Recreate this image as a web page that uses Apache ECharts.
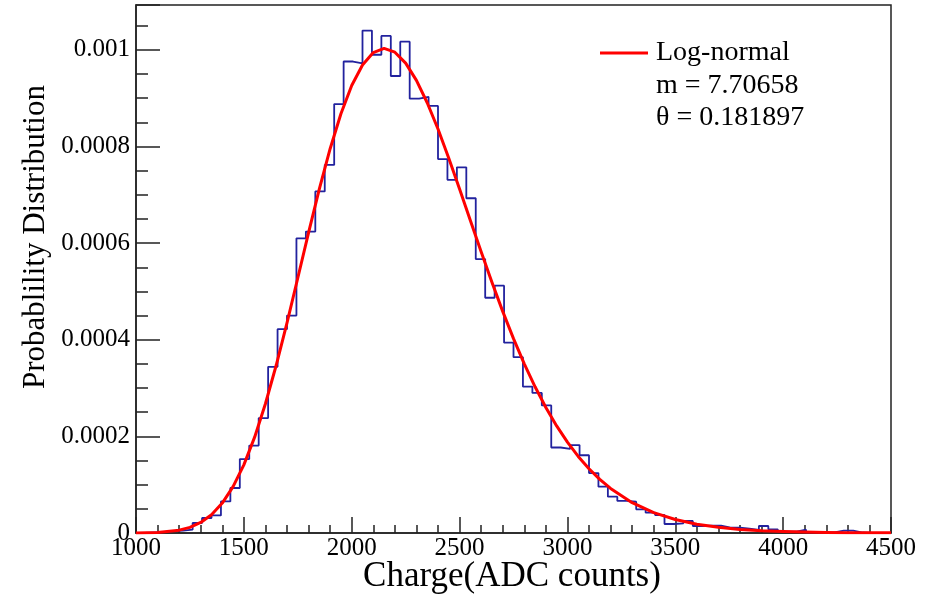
<!DOCTYPE html>
<html>
<head>
<meta charset="utf-8">
<script src="https://cdn.jsdelivr.net/npm/echarts@6/dist/echarts.min.js"></script>
<style>
html,body{margin:0;padding:0;background:#fff;}
#chart{width:935px;height:596px;}
</style>
</head>
<body>
<div id="chart"></div>
<script>
// ---- data ----
const binStart = 1000;
const binWidth = 43.75;
const histValues = [
  0, 0.000001, 0.000002, 0.000004, 0.000005, 0.0000068, 0.0000207, 0.000031, 0.0000364, 0.0000654,
  0.0000932, 0.000153, 0.000181, 0.000238, 0.000344, 0.000422, 0.00045, 0.00061, 0.000624, 0.000707,
  0.000762, 0.000888, 0.000976, 0.000972, 0.00104, 0.00099, 0.001029, 0.000946, 0.001017, 0.000899,
  0.000903, 0.000884, 0.000774, 0.000731, 0.000757, 0.000693, 0.000567, 0.000487, 0.000512, 0.000394,
  0.000364, 0.000303, 0.00029, 0.000264, 0.000177, 0.000174, 0.000182, 0.000161, 0.000124, 0.0000959,
  0.0000752, 0.0000663, 0.0000648, 0.000049, 0.000042, 0.0000373, 0.0000186, 0.00002, 0.0000248, 0.0000145,
  0.0000151, 0.0000151, 0.000011, 0.000011, 0.0000089, 0.0000062, 0.0000145, 0.0000076, 0.0000028, 0.0000028,
  0.0000069, 0.0000014, 0.0000014, 0.0000014, 0.0000048, 0.0000048, 0.000001, 0, 0, 0
];
const curveX = [1000,1100,1200,1250,1300,1350,1400,1450,1500,1550,1600,1650,1700,1750,1800,1850,1900,1950,
  2000,2050,2100,2150,2200,2250,2300,2350,2400,2450,2500,2550,2600,2650,2700,2750,2800,2850,2900,2950,
  3000,3050,3100,3150,3200,3300,3400,3500,3600,3700,3800,3900,4000,4100,4200,4300,4400,4500];
const curveY = [1.4e-7,1.12e-6,5.85e-6,1.173e-5,2.179e-5,3.789e-5,6.197e-5,9.588e-5,1.4111e-4,1.9838e-4,
  2.6755e-4,3.4722e-4,4.3509e-4,5.2785e-4,6.2164e-4,7.1219e-4,7.9548e-4,8.6783e-4,
  9.2631e-4,9.6892e-4,9.9456e-4,1.0031e-3,9.9530e-4,9.7262e-4,9.3699e-4,8.9070e-4,8.3621e-4,7.7595e-4,
  7.1219e-4,6.4696e-4,5.8209e-4,5.1899e-4,4.5879e-4,4.0237e-4,3.5022e-4,3.0269e-4,2.5985e-4,2.2167e-4,
  1.8800e-4,1.5853e-4,1.3300e-4,1.1100e-4,9.222e-5,6.283e-5,4.212e-5,2.784e-5,1.817e-5,1.173e-5,
  7.49e-6,4.74e-6,2.98e-6,1.86e-6,1.15e-6,7.1e-7,4.3e-7,2.7e-7];
const xTicks = [1000,1500,2000,2500,3000,3500,4000,4500];
const yTickLabels = ['0','0.0002','0.0004','0.0006','0.0008','0.001'];
const fitName = 'Log-normal';
const fitParams = ['m = 7.70658', '\u03b8 = 0.181897'];
const xTitle = 'Charge(ADC counts)';
const yTitle = 'Probablility Distribution';

// ---- build ----
const histData = histValues.map((v, i) => [binStart + i * binWidth, v]);
histData.push([binStart + histValues.length * binWidth, histValues[histValues.length - 1]]);
const curveData = curveX.map((x, i) => [x, curveY[i]]);

const FONT = 'Liberation Serif, Times New Roman, serif';
const yMax = 0.001093;

const chart = echarts.init(document.getElementById('chart'), null, {renderer: 'canvas'});
chart.setOption({
  animation: false,
  backgroundColor: '#fff',
  grid: {left: 136, right: 44, top: 5, bottom: 63, show: true, borderColor: '#222', borderWidth: 1.5, backgroundColor: 'transparent'},
  legend: {
    data: [{name: fitName, icon: 'rect', itemStyle: {color: '#ff0000'}}], left: 595, top: 34, itemWidth: 48, itemHeight: 3,
    textStyle: {fontFamily: FONT, fontSize: 28, color: '#000', padding: [0, 0, 0, 3]}
  },
  xAxis: {
    type: 'value', min: xTicks[0], max: xTicks[xTicks.length - 1], interval: 500,
    axisLine: {show: true, lineStyle: {color: '#222', width: 1.5}},
    axisTick: {show: true, inside: true, length: 16, lineStyle: {color: '#222', width: 1.5}},
    minorTick: {show: true, splitNumber: 5, length: 8, lineStyle: {color: '#222', width: 1.5}},
    splitLine: {show: false}, minorSplitLine: {show: false},
    axisLabel: {fontFamily: FONT, fontSize: 25, color: '#000', margin: 3, formatter: function (v) { return String(v); }}
  },
  yAxis: [{
    type: 'value', min: 0, max: yMax, interval: 0.0002,
    axisLine: {show: true, lineStyle: {color: '#222', width: 1.5}},
    axisTick: {show: true, inside: true, length: 24, lineStyle: {color: '#222', width: 1.5}},
    splitLine: {show: false},
    axisLabel: {
      fontFamily: FONT, fontSize: 25, color: '#000', margin: 6,
      formatter: function (v) {
        const k = Math.round(v / 0.0002);
        if (Math.abs(v - k * 0.0002) > 1e-9 || k >= yTickLabels.length) return '';
        return yTickLabels[k];
      }
    }
  }, {
    type: 'value', min: 0, max: yMax, interval: 0.00005, position: 'left',
    axisLine: {show: false},
    axisTick: {show: true, inside: true, length: 12, lineStyle: {color: '#222', width: 1.5}},
    axisLabel: {show: false}, splitLine: {show: false}
  }],
  series: [{
    name: 'Histogram', type: 'line', step: 'end', data: histData, symbol: 'none',
    lineStyle: {color: '#22229e', width: 1.8}, z: 2, silent: true
  }, {
    name: fitName, type: 'line', data: curveData, symbol: 'none', smooth: false,
    lineStyle: {color: '#ff0000', width: 3, join: 'round'}, itemStyle: {color: '#ff0000'}, z: 3, silent: true
  }],
  graphic: [
    {type: 'text', left: 656, top: 72, style: {text: fitParams[0], font: '28px ' + FONT, fill: '#000'}},
    {type: 'text', left: 656, top: 104, style: {text: fitParams[1], font: '28px ' + FONT, fill: '#000'}},
    {type: 'text', x: 512, y: 577, style: {text: xTitle, font: '35px ' + FONT, fill: '#000', align: 'center', verticalAlign: 'middle'}},
    {type: 'text', x: 36, y: 237, rotation: Math.PI / 2, style: {text: yTitle, font: '31px ' + FONT, fill: '#000', align: 'center', verticalAlign: 'middle'}}
  ]
});
</script>
</body>
</html>
